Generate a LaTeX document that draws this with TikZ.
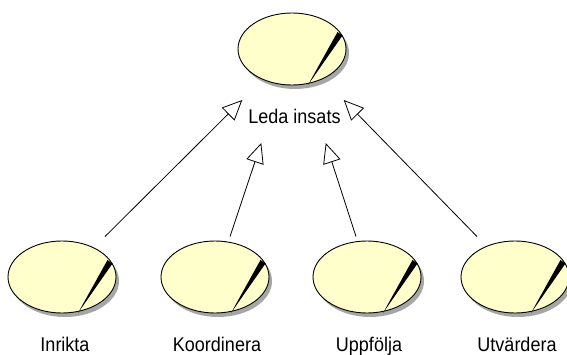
\documentclass[tikz,border=0pt]{standalone}
\usepackage{fontspec}
\setmainfont{Liberation Sans}
\usetikzlibrary{arrows.meta,shapes.geometric,shadows}
\definecolor{ucfill}{RGB}{255,255,204}
\tikzset{
  usecase/.style={ellipse, draw=black, line width=0.9pt, fill=ucfill, minimum width=108pt, minimum height=72pt, inner sep=0pt,
    general shadow={shadow xshift=3pt, shadow yshift=-4pt, fill=black!35}},
  uclabel/.style={font={\fontsize{18}{21}\selectfont}, inner sep=0pt, anchor=base, yscale=1.1},
  gen/.style={line width=0.8pt, -{Triangle[open, length=20pt, width=18pt, fill=white]}}
}
\newcommand\ucwedge[1]{\fill ([shift={(16pt,-36pt)}]#1.center) -- ([shift={(50.5pt,13.5pt)}]#1.center) -- ([shift={(45.5pt,17pt)}]#1.center) -- cycle;}

\begin{document}
\begin{tikzpicture}[x=1pt, y=-1pt]
        \useasboundingbox (0,0) rectangle (567,355);
        \node[usecase] (lead) at (292,49) {};
        \node[usecase] (inr) at (62,277) {};
        \node[usecase] (koo) at (215,277) {};
        \node[usecase] (upp) at (367,277) {};
        \node[usecase] (utv) at (515,277) {};
        \ucwedge{lead}
        \ucwedge{inr}
        \ucwedge{koo}
        \ucwedge{upp}
        \ucwedge{utv}
        \node[uclabel] (leadtxt) at (294.5,124) {Leda insats};
        \node[uclabel] (inrtxt) at (65,351) {Inrikta};
        \node[uclabel] (kootxt) at (217,351) {Koordinera};
        \node[uclabel] (upptxt) at (369,351) {Uppfölja};
        \node[uclabel] (utvtxt) at (517,351) {Utvärdera};
        \draw[gen] ([shift={(43pt,4pt)}]inr.north) -- ([shift={(-6pt,24pt)}]leadtxt.base west);
        \draw[gen] ([shift={(15pt,4pt)}]koo.north) -- ([shift={(13pt,-19pt)}]leadtxt.base west);
        \draw[gen] ([shift={(-11pt,4pt)}]upp.north) -- ([shift={(-15pt,-19pt)}]leadtxt.base east);
        \draw[gen] ([shift={(-38pt,4pt)}]utv.north) -- ([shift={(3pt,24pt)}]leadtxt.base east);
    \end{tikzpicture}
\end{document}
